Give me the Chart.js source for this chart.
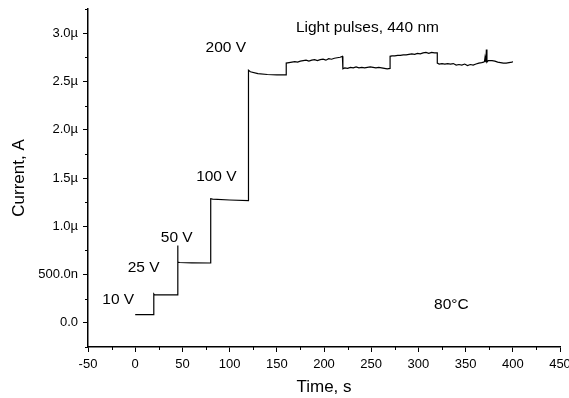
<!DOCTYPE html>
<html>
<head>
<meta charset="utf-8">
<script src="https://cdn.jsdelivr.net/npm/chart.js@4.4.0/dist/chart.umd.min.js"></script>
<style>
  html, body { margin: 0; padding: 0; background: #fff; }
  #wrap { width: 569px; height: 398px; }
</style>
</head>
<body>
<div id="wrap"><canvas id="chart"></canvas></div>
<script>
// time, s
const times = [
    0, 19.7, 19.7, 20.5, 45, 45, 45.3, 47, 60, 80,
    80, 82, 100, 120, 120, 122, 130, 140, 150, 160,
    160, 163, 166, 169, 172, 175, 178, 181, 184, 187,
    190, 193, 196, 199, 202, 205, 208, 211, 214, 217,
    219.5, 220, 222, 225, 228, 231, 234, 237, 240, 243,
    246, 249, 252, 255, 258, 261, 264, 267, 270, 270,
    272, 275, 278, 281, 284, 287, 290, 293, 296, 299,
    302, 305, 308, 311, 314, 317, 320, 320, 322, 325,
    328, 331, 334, 337, 340, 343, 346, 349, 352, 355,
    358, 361, 364, 367, 369, 370, 370.6, 371.5, 372, 372.6,
    374, 378, 381, 384, 387, 390, 393, 396, 399, 400
];
// current, µA
const currents = [
    0.085, 0.085, 0.30, 0.29, 0.29, 0.80, 0.63, 0.625, 0.622, 0.62,
    1.285, 1.282, 1.272, 1.265, 2.615, 2.60, 2.58, 2.572, 2.568, 2.568,
    2.69, 2.695, 2.70, 2.705, 2.70, 2.71, 2.715, 2.72, 2.71, 2.72,
    2.725, 2.715, 2.725, 2.73, 2.72, 2.735, 2.73, 2.74, 2.745, 2.75,
    2.76, 2.63, 2.64, 2.635, 2.645, 2.64, 2.65, 2.64, 2.645, 2.64,
    2.645, 2.65, 2.645, 2.64, 2.645, 2.64, 2.635, 2.63, 2.635, 2.76,
    2.765, 2.765, 2.77, 2.77, 2.775, 2.775, 2.78, 2.785, 2.78, 2.79,
    2.785, 2.795, 2.80, 2.79, 2.80, 2.795, 2.795, 2.69, 2.68, 2.685,
    2.68, 2.685, 2.68, 2.685, 2.67, 2.675, 2.67, 2.68, 2.665, 2.675,
    2.67, 2.68, 2.69, 2.695, 2.70, 2.705, 2.75, 2.70, 2.83, 2.70,
    2.715, 2.715, 2.71, 2.70, 2.695, 2.69, 2.69, 2.695, 2.70, 2.705
];

const xTicks = [-50, 0, 50, 100, 150, 200, 250, 300, 350, 400, 450];
const yTicks = [0, 0.5, 1.0, 1.5, 2.0, 2.5, 3.0];
const yTickLabels = ['0.0', '500.0n', '1.0µ', '1.5µ', '2.0µ', '2.5µ', '3.0µ'];

// text labels on the plot (data coordinates)
const notes = [
    { text: '10 V', x: -18, y: 0.24 },
    { text: '25 V', x: 9, y: 0.57 },
    { text: '50 V', x: 44, y: 0.877 },
    { text: '100 V', x: 86, y: 1.518 },
    { text: '200 V', x: 96, y: 2.847 },
    { text: 'Light pulses, 440 nm', x: 246, y: 3.06 },
    { text: '80°C', x: 335, y: 0.19 }
];

const FONT = 'Liberation Sans, Arial, sans-serif';

const points = times.map((t, i) => ({ x: t, y: currents[i] }));

// short minor ticks half way between the major ones
const minorTicks = {
    id: 'minorTicks',
    afterDraw(chart) {
        const ctx = chart.ctx;
        const xs = chart.scales.x, ys = chart.scales.y;
        ctx.save();
        ctx.strokeStyle = '#000';
        ctx.lineWidth = 1;
        ctx.beginPath();
        for (let v = xs.min + 25; v < xs.max; v += 50) {
            const px = Math.round(xs.getPixelForValue(v)) + 0.5;
            ctx.moveTo(px, xs.top);
            ctx.lineTo(px, xs.top + 3);
        }
        for (let v = ys.min; v <= ys.max + 1e-9; v += 0.5) {
            const py = Math.round(ys.getPixelForValue(v)) + 0.5;
            ctx.moveTo(ys.right, py);
            ctx.lineTo(ys.right - 3, py);
        }
        ctx.stroke();
        ctx.restore();
    }
};

const textNotes = {
    id: 'textNotes',
    afterDatasetsDraw(chart) {
        const ctx = chart.ctx;
        const xs = chart.scales.x, ys = chart.scales.y;
        ctx.save();
        ctx.fillStyle = '#000';
        ctx.font = '15.5px ' + FONT;
        ctx.textAlign = 'center';
        ctx.textBaseline = 'middle';
        notes.forEach(n => {
            ctx.fillText(n.text, xs.getPixelForValue(n.x), ys.getPixelForValue(n.y));
        });
        ctx.restore();
    }
};

new Chart(document.getElementById('chart'), {
    type: 'scatter',
    data: {
        datasets: [{
            data: points,
            showLine: true,
            borderColor: '#000',
            borderWidth: 1.2,
            pointRadius: 0,
            tension: 0,
            fill: false
        }]
    },
    options: {
        responsive: true,
        maintainAspectRatio: false,
        animation: false,
        layout: { padding: { top: 9, right: 9, left: 0, bottom: 0 } },
        plugins: {
            legend: { display: false },
            tooltip: { enabled: false }
        },
        scales: {
            x: {
                type: 'linear',
                min: -50,
                max: 450,
                afterBuildTicks: s => { s.ticks = xTicks.map(v => ({ value: v })); },
                afterFit: s => { s.height = 51; s.paddingLeft = 0; s.paddingRight = 0; },
                border: { display: true, color: '#000', width: 1.5 },
                grid: { display: true, drawOnChartArea: false, drawTicks: true, tickLength: 5, tickColor: '#000', tickWidth: 1 },
                ticks: { color: '#000', font: { family: FONT, size: 13 }, padding: 5, maxRotation: 0 },
                title: { display: true, text: 'Time, s', color: '#000', font: { family: FONT, size: 17 }, padding: { top: 0, bottom: 0 } }
            },
            y: {
                type: 'linear',
                min: -0.25,
                max: 3.25,
                afterBuildTicks: s => { s.ticks = yTicks.map(v => ({ value: v })); },
                afterFit: s => { s.width = 88; s.paddingTop = 0; s.paddingBottom = 0; },
                border: { display: true, color: '#000', width: 1.5 },
                grid: { display: true, drawOnChartArea: false, drawTicks: true, tickLength: 5, tickColor: '#000', tickWidth: 1 },
                ticks: {
                    color: '#000',
                    font: { family: FONT, size: 13 },
                    padding: 5,
                    callback: v => {
                        const i = yTicks.indexOf(v);
                        return i >= 0 ? yTickLabels[i] : '';
                    }
                },
                title: { display: true, text: 'Current, A', color: '#000', font: { family: FONT, size: 17 }, padding: { top: 9, bottom: 0 } }
            }
        }
    },
    plugins: [minorTicks, textNotes]
});
</script>
</body>
</html>
